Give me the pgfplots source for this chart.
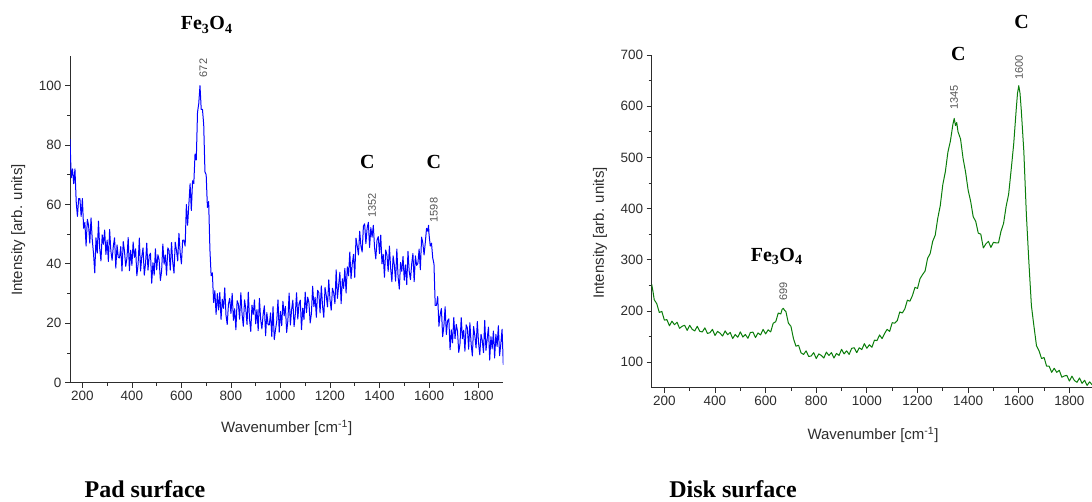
\documentclass[border=0pt]{standalone}
\usepackage{fontspec}
\setmainfont{Liberation Sans}
\newfontfamily\tnr{Liberation Serif}
\usepackage{pgfplots}
\pgfplotsset{compat=1.18}
\definecolor{tickgray}{RGB}{45,45,45}
\definecolor{peakgray}{RGB}{85,85,85}
\definecolor{diskgreen}{RGB}{10,125,10}
\pgfplotsset{
  ramanstyle/.style={
    scale only axis,
    axis x line*=bottom, axis y line*=left,
    axis line style={tickgray, line width=0.9pt},
    tick align=outside,
    major tick length=5pt, minor tick length=3pt,
    every tick/.style={tickgray, line width=0.8pt},
    minor tick num=1,
    tick label style={font=\fontsize{13.5}{15}\selectfont, text=tickgray},
    /pgf/number format/assume math mode=true,
    /pgf/number format/1000 sep={},
    xtick={200,400,...,1800},
    xmin=150, xmax=1900,
    clip=true,
  }
}
\newcommand{\peak}[1]{\fontsize{11}{12}\selectfont\color{peakgray}#1}
\newcommand{\biglab}[1]{\tnr\bfseries\fontsize{20}{22}\selectfont #1}
\begin{document}
\begin{tikzpicture}[x=1pt,y=1pt]
\useasboundingbox (0,0) rectangle (1092,501);
% ---------------- Pad surface ----------------
\begin{axis}[ramanstyle,
  at={(70pt,118.3pt)}, anchor=south west,
  width=433.3pt, height=326.7pt,
  ymin=0, ymax=110, ytick={0,20,...,100},
]
\addplot[blue, line width=1pt, line join=round] coordinates {
(150,82)(155,69)(160,72)(165,67)(170,72)(175,61)(180,56)(185,62)(190,62)(195,56)
(200,62)(205,52)(210,54)(215,46)(220,55)(225,53)(230,47)(235,55.5)(240,48)(245,43.5)
(250,37)(255,48.8)(260,43.6)(265,54.4)(270,45.2)(275,41)(280,49.8)(285,46.6)(290,51.4)(295,43.2)
(300,48)(305,40.8)(310,51.6)(315,44.4)(320,41.2)(325,46)(330,48.8)(335,38.6)(340,46.4)(345,42.2)
(350,42)(355,45.8)(360,37.6)(365,47.5)(370,44.3)(375,39.2)(380,42)(385,48.9)(390,37.7)(395,44.6)
(400,39.5)(405,47.4)(410,42.2)(415,45.1)(420,36)(425,39.9)(430,48.7)(435,37.6)(440,42.5)(445,45.4)
(450,36.2)(455,40.1)(460,47)(465,37.9)(470,42.7)(475,43.6)(480,33.5)(485,40.4)(490,36.2)(495,45.1)
(500,38)(505,43.1)(510,41.3)(515,34.4)(520,37.6)(525,46.7)(530,39.9)(535,43)(540,36.2)(545,45.4)
(550,44.5)(555,37.9)(560,47.2)(565,40.6)(570,36.9)(575,47.3)(580,44.6)(585,41)(590,50.3)(595,43.7)
(600,40)(605,48)(610,48)(615,46)(620,60)(625,53)(630,60)(635,67)(640,58)(645,68)
(650,67)(655,77)(660,75)(665,91)(670,94)(675,100)(680,92)(685,92)(690,87)(695,71)
(700,70)(705,59)(710,61)(715,45)(720,36)(725,37)(730,27)(735,31)(740,23)(745,30)
(750,24.5)(755,30.4)(760,21.3)(765,28.1)(770,25)(775,31.9)(780,22.8)(785,19.6)(790,26.5)(795,28.4)
(800,23.3)(805,30.1)(810,21)(815,24.9)(820,17.8)(825,27.6)(830,26.5)(835,21.4)(840,30.3)(845,23.1)
(850,19)(855,27.9)(860,24.8)(865,19.6)(870,30.5)(875,21.4)(880,17.3)(885,26.1)(890,23)(895,27.9)
(900,19.8)(905,24.6)(910,17.5)(915,28.4)(920,21.3)(925,18.1)(930,23)(935,25.9)(940,15.8)(945,23.6)
(950,19.5)(955,19.5)(960,23.5)(965,15.5)(970,25.6)(975,14.5)(980,17.8)(985,20.8)(990,27.9)(995,17)
(1000,24)(1005,19.2)(1010,27.4)(1015,22.5)(1020,25.7)(1025,16.9)(1030,21)(1035,30.2)(1040,19.4)(1045,24.6)
(1050,27.8)(1055,18.9)(1060,23.1)(1065,30.3)(1070,21.4)(1075,26.6)(1080,27.8)(1085,17.9)(1090,25.1)(1095,21.3)
(1100,30.5)(1105,23.6)(1110,28.8)(1115,27)(1120,20.1)(1125,23.3)(1130,32.5)(1135,25.6)(1140,28.8)(1145,22)
(1150,31.1)(1155,30.3)(1160,23.5)(1165,32.6)(1170,25.8)(1175,22)(1180,32.1)(1185,29.3)(1190,25.5)(1195,34.6)
(1200,28)(1205,24.4)(1210,31.8)(1215,30.2)(1220,26.6)(1225,38)(1230,28.4)(1235,32.8)(1240,37.2)(1245,26.6)
(1250,35)(1255,31.7)(1260,38.5)(1265,30.2)(1270,39)(1275,36)(1280,44)(1285,35)(1290,40)(1295,43.2)
(1300,35.5)(1305,48.7)(1310,46)(1315,43)(1320,51)(1325,46)(1330,44)(1335,52.7)(1340,53.5)(1345,46.8)
(1350,52)(1355,54)(1360,45.5)(1365,52.2)(1370,49)(1375,53)(1380,45.5)(1385,41.7)(1390,48)(1395,49.2)
(1400,43.5)(1405,49.7)(1410,40)(1415,43.2)(1420,35.5)(1425,44.7)(1430,43)(1435,37.5)(1440,46)(1445,38.5)
(1450,34)(1455,42.7)(1460,39.5)(1465,34.2)(1470,45)(1475,35.7)(1480,31.5)(1485,40.5)(1490,37.5)(1495,42.5)
(1500,34.5)(1505,39.7)(1510,33)(1515,44.2)(1520,37.5)(1525,34.7)(1530,40)(1535,43.5)(1540,34)(1545,42.7)
(1550,39.5)(1555,40.2)(1560,45)(1565,38)(1570,49)(1575,47)(1580,43)(1585,47.2)(1590,52)(1595,51)
(1598,53)(1600,50)(1605,46)(1610,47)(1615,42)(1620,40)(1625,26)(1630,26)(1635,29)(1640,19)
(1645,23)(1650,25)(1655,15.5)(1660,19)(1665,25.6)(1670,16.2)(1675,20.9)(1680,21.5)(1685,11.1)(1690,17.8)
(1695,13.4)(1700,22)(1705,14.8)(1710,19.6)(1715,17.4)(1720,10.2)(1725,13)(1730,21.9)(1735,14.8)(1740,17.7)
(1745,10.6)(1750,19.5)(1755,18.4)(1760,11.3)(1765,20.2)(1770,13.1)(1775,9)(1780,18.9)(1785,15.8)(1790,11.7)
(1795,20.6)(1800,13.5)(1805,9.4)(1810,16.3)(1815,14.2)(1820,10.1)(1825,21)(1830,10.9)(1835,14.8)(1840,18.7)
(1845,7.6)(1850,15.5)(1855,11.4)(1860,17.4)(1865,8.3)(1870,16.3)(1875,12.2)(1880,19.2)(1885,9.1)(1890,13.1)
(1895,18)(1900,6)
};
\end{axis}
% ---------------- Disk surface ----------------
\begin{axis}[ramanstyle,
  at={(651.7pt,113.3pt)}, anchor=south west,
  width=443pt, height=332.7pt,
  ymin=50, ymax=700, ytick={100,200,...,700},
]
\addplot[diskgreen, line width=1pt, line join=round] coordinates {
(150,252)(155,238)(160,222)(170,214)(180,197)(190,199)(200,182)(210,183)(220,171)(230,180)(240,173)
(250,178)(260,166)(270,170)(280,172)(290,162)(300,172)(310,164)(320,161)(330,170)(340,160)
(350,159)(360,167)(370,156)(380,157.5)(390,164)(400,152)(410,160)(420,156.5)(430,151)(440,161)
(450,153.5)(460,158)(470,146)(480,154)(490,148.5)(500,159)(510,149)(520,154)(530,146.5)(540,158)
(550,158.5)(560,148)(570,157)(580,153)(590,164)(600,155)(610,163)(620,159)(630,176)(640,179)
(650,196)(660,194)(665,203)(670,205)(675,201)(680,199)(690,176)(700,170)(710,146)(720,131)(730,133)(740,118)
(750,115)(760,122)(770,111)(780,112)(790,118.5)(800,107)(810,116)(820,113)(830,108)(840,119.5)
(850,113)(860,118.5)(870,108)(880,117)(890,113)(900,125)(910,116)(920,122)(930,115)(940,127)
(950,128)(960,118.5)(970,128)(980,124.5)(990,136)(1000,127)(1010,134)(1020,129)(1030,143)(1040,142)
(1050,153)(1060,146)(1070,156)(1080,164)(1090,160)(1100,177)(1110,176)(1120,181)(1130,198)(1140,196)
(1150,204)(1160,221)(1170,219)(1180,230)(1190,246)(1200,244)(1210,263)(1220,271)(1230,278)(1240,303)
(1250,312)(1260,336)(1270,348)(1280,381)(1290,406)(1300,447)(1310,472)(1320,510)(1330,532)(1340,565)
(1345,576)(1350,562)(1355,568)(1360,550)(1370,536)(1380,498)(1390,471)(1400,436)(1410,414)(1420,384)(1430,375)
(1440,352)(1450,350)(1460,323)(1470,331)(1480,336)(1490,324)(1500,334)(1510,333)(1520,333)(1530,356)
(1540,371)(1550,404)(1560,428)(1570,476)(1580,526)(1590,594)(1595,625)(1600,640)(1605,625)(1610,592)
(1620,512)(1630,389)(1640,295)(1650,210)(1660,170)(1670,132)(1680,122)(1690,107)(1700,109)(1710,92)
(1720,92)(1730,80)(1740,88)(1750,80)(1760,84)(1770,70.5)(1780,73)(1790,74)(1800,63)(1810,72.5)
(1820,64)(1830,60.5)(1840,69)(1850,58.5)(1860,64.5)(1870,54.5)(1880,61.5)(1890,55.5)(1900,59)
};
\end{axis}
% ---------------- Annotations ----------------
\node at (206.7,476) {\biglab{Fe\textsubscript{3}O\textsubscript{4}}};
\node[rotate=90] at (203.3,433) {\peak{672}};
\node at (367.4,339.3) {\biglab{C}};
\node at (433.8,339.3) {\biglab{C}};
\node[rotate=90] at (372,295.3) {\peak{1352}};
\node[rotate=90] at (433.8,291) {\peak{1598}};
\node[rotate=90] at (18.3,271) {\fontsize{15}{17}\selectfont\color{tickgray}Intensity [arb. units]};
\node at (286.7,72.7) {\fontsize{15}{17}\selectfont\color{tickgray}Wavenumber [cm\textsuperscript{-1}]};
\node[anchor=base, inner sep=0pt] at (145,4) {\tnr\bfseries\fontsize{24}{26}\selectfont Pad surface};

\node at (776.7,244.3) {\biglab{Fe\textsubscript{3}O\textsubscript{4}}};
\node[rotate=90] at (783.3,209.3) {\peak{699}};
\node at (958.3,447) {\biglab{C}};
\node at (1021.7,478.7) {\biglab{C}};
\node[rotate=90] at (954,403.5) {\peak{1345}};
\node[rotate=90] at (1019,433.5) {\peak{1600}};
\node[rotate=90] at (600,268) {\fontsize{15}{17}\selectfont\color{tickgray}Intensity [arb. units]};
\node at (873,66) {\fontsize{15}{17}\selectfont\color{tickgray}Wavenumber [cm\textsuperscript{-1}]};
\node[anchor=base, inner sep=0pt] at (733,4) {\tnr\bfseries\fontsize{24}{26}\selectfont Disk surface};
\end{tikzpicture}
\end{document}
